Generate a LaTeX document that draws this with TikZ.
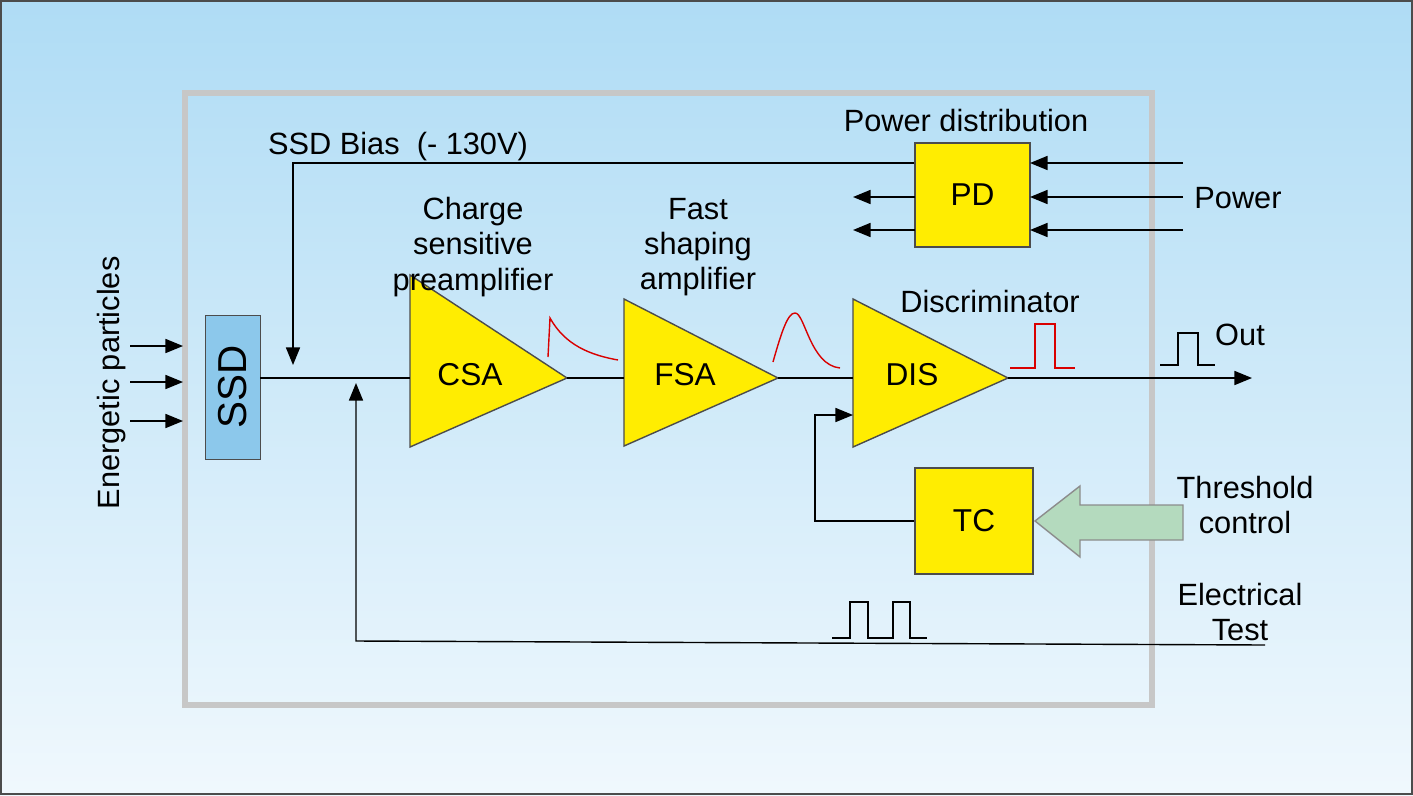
\documentclass[tikz,border=0pt]{standalone}
\usepackage{fontspec}
\setmainfont{Liberation Sans}
\usetikzlibrary{arrows.meta,shapes.geometric}
\begin{document}
\begin{tikzpicture}[x=0.02cm,y=-0.02cm,
  lbl/.style={font=\fontsize{17.5}{20}\selectfont,align=center,inner sep=0},
  blk/.style={draw=black!70,fill=yellow!95!orange,line width=0.8pt},
  ln/.style={line width=0.8pt},
  arr/.style={ln,-{Triangle[length=10pt,width=8pt]}},
  sig/.style={red!85!black,line width=0.8pt}]
\useasboundingbox (0,0) rectangle (1413,795);
\shade[top color={rgb,255:red,175;green,220;blue,245},bottom color={rgb,255:red,240;green,248;blue,253}] (0,0) rectangle (1413,795);
\draw[black!70,line width=1pt] (1,1) rectangle (1412,794);
\draw[black!22,line width=3pt] (185,93) rectangle (1152,705);
% SSD
\node[draw=black!70,fill={rgb,255:red,140;green,200;blue,235},minimum width=55*0.02cm,minimum height=144*0.02cm,inner sep=0] (ssd) at (232.5,387) {};
\node[rotate=90,lbl,font=\fontsize{23}{25}\selectfont] at (ssd) {SSD};
% triangles
\path[blk] (410,275) -- (567,378) -- (410,447) -- cycle;
\path[blk] (624,299) -- (778,378) -- (624,446) -- cycle;
\path[blk] (853,299) -- (1008,378) -- (853,447) -- cycle;
\node[lbl,font=\fontsize{18}{20}\selectfont] (csa) at (470,375) {CSA};
\node[lbl,font=\fontsize{18}{20}\selectfont] (fsa) at (685,375) {FSA};
\node[lbl,font=\fontsize{18}{20}\selectfont] (dis) at (912,375) {DIS};
\coordinate (ssdR) at (260,378);
\coordinate (csaL) at (410,378); \coordinate (csaR) at (567,378);
\coordinate (fsaL) at (624,378); \coordinate (fsaR) at (778,378);
\coordinate (disL) at (853,378); \coordinate (disR) at (1008,378);
\coordinate (disLo) at (853,415);
% boxes
\node[blk,minimum width=115*0.02cm,minimum height=104*0.02cm,inner sep=0,font=\fontsize{18}{20}\selectfont] (pd) at (972.5,195) {PD};
\node[blk,minimum width=118*0.02cm,minimum height=106*0.02cm,inner sep=0,font=\fontsize{18}{20}\selectfont] (tc) at (974,521) {TC};
% main line
\draw[ln] (ssdR) -- (csaL);
\draw[ln] (csaR) -- (fsaL);
\draw[ln] (fsaR) -- (disL);
\coordinate (out) at (1252,378);
\draw[arr] (disR) -- (out);
% particles
\foreach \y in {346,382,421}{\coordinate (p\y) at (130,\y); \draw[arr] (p\y) -- (183,\y);}
\node[lbl,rotate=90] at (112,383) {Energetic particles};
% bias
\coordinate (b1) at (293,163); \coordinate (b2) at (293,365);
\draw[arr] (pd.west |- b1) -- (b1) -- (b2);
% electrical test
\coordinate (e0) at (1265,645); \coordinate (e1) at (356,641); \coordinate (e2) at (356,383);
\draw[arr] (e0) -- (e1) -- (e2);
% power
\foreach \y in {163,197,230}{\coordinate (q\y) at (1183,\y); \draw[arr] (q\y) -- (1030,\y);}
\foreach \y in {197,230}{\coordinate (r\y) at (853,\y); \draw[arr] (915,\y) -- (r\y);}
% threshold
\coordinate (t1) at (815,521); \coordinate (t2) at (815,415);
\draw[arr] (tc.west) -- (t1) -- (t2) -- (disLo);
\draw[black!45,fill={rgb,255:red,180;green,218;blue,190},line width=0.8pt]
 (1183,505) -- (1080,505) -- (1080,486) -- (1035,521) -- (1080,557) -- (1080,540) -- (1183,540) -- cycle;
% signals
\draw[sig] (548,357) -- (550,318) .. controls (565,345) and (590,355) .. (618,360);
\draw[sig] (773,362) .. controls (782,330) and (788,313) .. (795,313) .. controls (805,313) and (810,365) .. (840,368);
\draw[sig] (1010,368) -- (1035,368) -- (1035,324) -- (1055,324) -- (1055,368) -- (1075,368);
\draw[ln] (1160,365) -- (1178,365) -- (1178,333) -- (1198,333) -- (1198,365) -- (1215,365);
\draw[ln] (832,638) -- (850,638) -- (850,602) -- (868,602) -- (868,638) -- (893,638) -- (893,602) -- (910,602) -- (910,638) -- (927,638);
% labels
\node[lbl] at (398,147) {SSD Bias\ \ (- 130V)};
\node[lbl] at (966,121) {Power distribution};
\node[lbl] at (1238,198) {Power};
\node[lbl] at (473,247) {Charge\\sensitive\\preamplifier};
\node[lbl] at (698,247) {Fast\\shaping\\amplifier};
\node[lbl] at (990,302) {Discriminator};
\node[lbl] at (1240,335) {Out};
\node[lbl] at (1245,505) {Threshold\\control};
\node[lbl] at (1240,612) {Electrical\\Test};
\end{tikzpicture}
\end{document}
